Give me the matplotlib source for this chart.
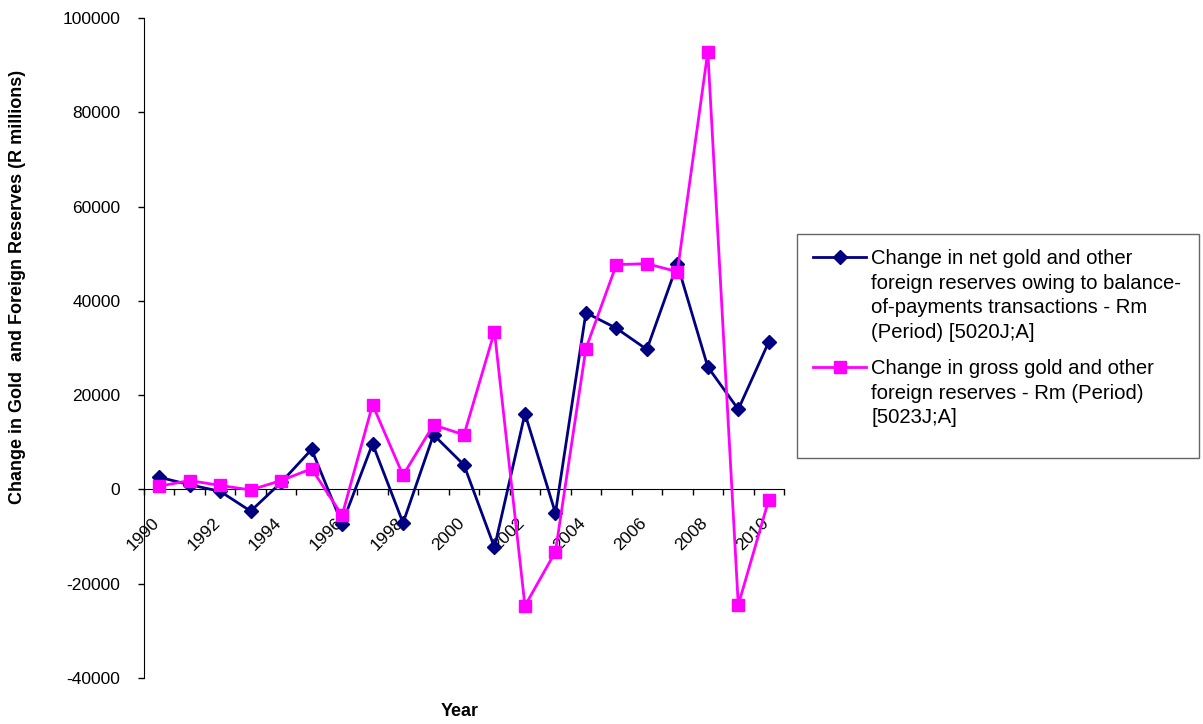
import matplotlib.pyplot as plt
import matplotlib.patches as patches
import matplotlib.transforms as mtransforms
from matplotlib.lines import Line2D
import numpy as np

# Style
NAVY = '#000080'
MAGENTA = '#FF00FF'
plt.rcParams['font.family'] = ['Liberation Sans', 'DejaVu Sans']

# Data
years = list(range(1990, 2011))
net_reserves = [2600, 1000, -400, -4600, 1500, 8500, -7300, 9700, -7100, 11600, 5200,
                -12300, 16100, -5000, 37500, 34200, 29700, 47800, 26000, 17000, 31300]
gross_reserves = [700, 1900, 850, -100, 1900, 4400, -5500, 18000, 3000, 13700, 11600,
                  33500, -24700, -13200, 29900, 47700, 47900, 46200, 92900, -24500, -2200]
y_ticks = [-40000, -20000, 0, 20000, 40000, 60000, 80000, 100000]

label_net = ("Change in net gold and other\nforeign reserves owing to balance-\n"
             "of-payments transactions - Rm\n(Period) [5020J;A]")
label_gross = ("Change in gross gold and other\nforeign reserves - Rm (Period)\n"
               "[5023J;A]")

W, H = 1203, 724
fig = plt.figure(figsize=(W / 100, H / 100), dpi=100)
ax = fig.add_axes([0.1197, 0.0635, 0.532, 0.9115])

net_style = dict(color=NAVY, linewidth=2, marker='D', markersize=7,
                 markerfacecolor=NAVY, markeredgecolor=NAVY)
gross_style = dict(color=MAGENTA, linewidth=2, marker='s', markersize=9,
                   markerfacecolor=MAGENTA, markeredgecolor=MAGENTA)

x = np.arange(len(years))
ax.plot(x, net_reserves, zorder=3, **net_style)
ax.plot(x, gross_reserves, zorder=3, **gross_style)

ax.set_xlim(-0.5, len(years) - 0.5)
ax.set_ylim(-40000, 100000)

# Y axis
ax.set_yticks(y_ticks)
ax.set_yticklabels([str(v) for v in y_ticks])
ax.tick_params(axis='y', direction='out', length=4, width=1, labelsize=12.5, pad=13)

# X axis crosses at zero, ticks between categories
ax.spines['bottom'].set_position(('data', 0))
ax.spines['top'].set_visible(False)
ax.spines['right'].set_visible(False)
ax.set_xticks(x[::2])
ax.set_xticklabels([str(y) for y in years[::2]], rotation=45, ha='right', va='bottom',
                   rotation_mode='anchor')
ax.set_xticks(np.arange(-0.5, len(years), 1.0), minor=True)
ax.tick_params(axis='x', which='major', length=0, labelsize=12.5, pad=26)
ax.tick_params(axis='x', which='minor', direction='out', length=4, width=1)
shift = mtransforms.ScaledTranslation(3 / 100, 0, fig.dpi_scale_trans)
for lbl in ax.get_xticklabels():
    lbl.set_transform(lbl.get_transform() + shift)

fig.text(460 / W, 1 - 712 / H, "Year", fontsize=13, fontweight='bold',
         ha='center', va='center')
fig.text(18 / W, 1 - 287 / H, "Change in Gold  and Foreign Reserves (R millions)",
         fontsize=13, fontweight='bold', rotation=90, ha='center', va='center')

# Legend drawn Excel-style: box, handle beside the first line of each label
box = patches.Rectangle((797 / W, 1 - 458 / H), (1199 - 797) / W, (458 - 234) / H,
                        transform=fig.transFigure, fill=False, edgecolor='#666666',
                        linewidth=1)
fig.patches.append(box)
for label, style, y_pix in [(label_net, net_style, 257), (label_gross, gross_style, 367)]:
    yf = 1 - y_pix / H
    line_style = {k: v for k, v in style.items() if not k.startswith('marker')}
    fig.add_artist(Line2D([813 / W, 866 / W], [yf, yf], transform=fig.transFigure,
                          **line_style))
    fig.add_artist(Line2D([839.5 / W], [yf], transform=fig.transFigure, linestyle='none',
                          marker=style['marker'], markersize=style['markersize'],
                          markerfacecolor=style['markerfacecolor'],
                          markeredgecolor=style['markeredgecolor']))
    fig.text(871 / W, 1 - (y_pix - 8) / H, label, fontsize=14.6, ha='left',
             va='top', linespacing=1.38)

fig.savefig('out.png', dpi=100)
